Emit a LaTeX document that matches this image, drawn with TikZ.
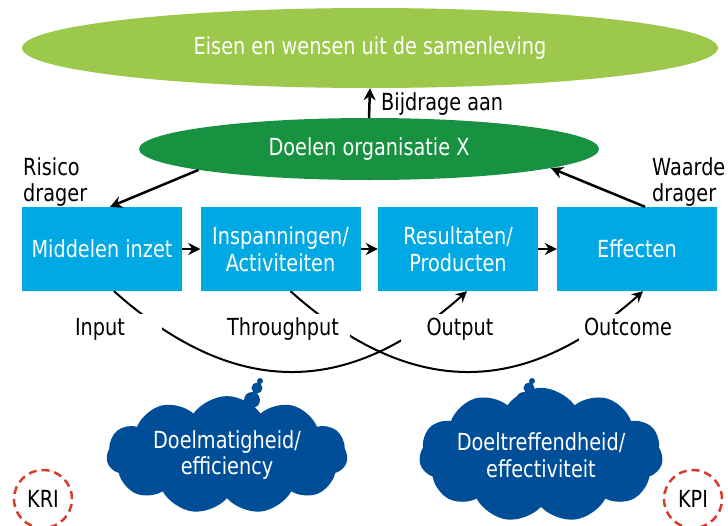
\documentclass[tikz,border=0pt]{standalone}
\usepackage{fontspec}
\setmainfont{DejaVu Sans}[FakeStretch=0.82]
\usetikzlibrary{shapes.geometric,shapes.symbols,arrows.meta,calc}
\definecolor{lightgreen}{RGB}{156,200,75}
\definecolor{darkgreen}{RGB}{24,146,64}
\definecolor{boxcyan}{RGB}{0,169,228}
\definecolor{cloudblue}{RGB}{0,78,152}
\definecolor{dashred}{RGB}{216,60,45}
\begin{document}
\begin{tikzpicture}[x=1pt,y=-1pt,
  every node/.style={font=\fontsize{23.5}{26.5}\selectfont},
  stepbox/.style={fill=boxcyan,text=white,minimum width=160,minimum height=84,inner sep=0,align=center},
  goal/.style={ellipse,inner sep=0,text=white},
  arr/.style={line width=2.5pt,-{Stealth[length=12pt,width=12pt]}},
  curv/.style={line width=2pt,-{Stealth[length=11pt,width=11pt]}},
  lbl/.style={fill=white,inner sep=0,minimum height=30,text height=17pt,text depth=5pt},
  wolk/.style={cloud,cloud puffs=11,cloud puff arc=110,aspect=2.3,fill=cloudblue,text=white,align=center,inner sep=0,minimum width=241,minimum height=104},
  kpi/.style={circle,draw=dashred,dashed,dash pattern=on 8pt off 5pt,line width=2.5pt,minimum size=58,inner sep=0}
]
\useasboundingbox (0,0) rectangle (728,525);

% ellipses
\node[goal,fill=lightgreen,minimum width=696,minimum height=80] (eisen) at (370,48) {Eisen en wensen uit de samenleving};
\node[goal,fill=darkgreen,minimum width=460,minimum height=62] (doelen) at (369,149) {Doelen organisatie X};

\draw[arr] (doelen.north) -- (eisen.south);
\node[anchor=west,inner sep=0] (bijdrage) at (381,104) {Bijdrage aan};

% boxes
\node[stepbox] (m1) at (102,249) {Middelen inzet};
\node[stepbox] (i2) at (280.5,249) {Inspanningen/\\Activiteiten};
\node[stepbox] (r3) at (458,249) {Resultaten/\\Producten};
\node[stepbox] (e4) at (637,249) {Effecten};

\draw[arr] (m1) -- (i2);
\draw[arr] (i2) -- (r3);
\draw[arr] (r3) -- (e4);

% side labels
\node[anchor=west,align=left,inner sep=0] (risico) at (23,182) {Risico\\drager};
\node[anchor=west,align=left,inner sep=0] (waarde) at (652,182) {Waarde\\drager};

\draw[arr] (doelen.187) -- ([xshift=8pt]m1.north);
\draw[arr] ([xshift=8pt]e4.north) -- (doelen.-6);

% curves
\draw[curv] ([xshift=12pt]m1.south) .. controls +(120,107) and +(-120,107) .. ([xshift=9pt]r3.south);
\draw[curv] ([xshift=10pt]i2.south) .. controls +(120,107) and +(-120,107) .. ([xshift=6pt]e4.south);

\node[lbl,minimum width=124] (input) at (100,329) {Input};
\node[lbl,minimum width=134] (through) at (283,329) {Throughput};
\node[lbl,minimum width=118] (output) at (460,329) {Output};
\node[lbl,minimum width=98] (outcome) at (628,329) {Outcome};

% clouds
\fill[cloudblue] (252,400) circle (8) (257,388) circle (5.5) (260,381) circle (3);
\fill[cloudblue] (524,400) circle (8) (529,388) circle (5.5) (532,381) circle (3);
\node[wolk] (c1) at (227,455) {Doelmatigheid/\\efficiency};
\node[wolk] (c2) at (541,455) {Doeltreffendheid/\\effectiviteit};

% KRI / KPI
\node[kpi] (kri) at (43,499) {KRI};
\node[kpi] (kpi) at (693,499) {KPI};
\end{tikzpicture}
\end{document}
